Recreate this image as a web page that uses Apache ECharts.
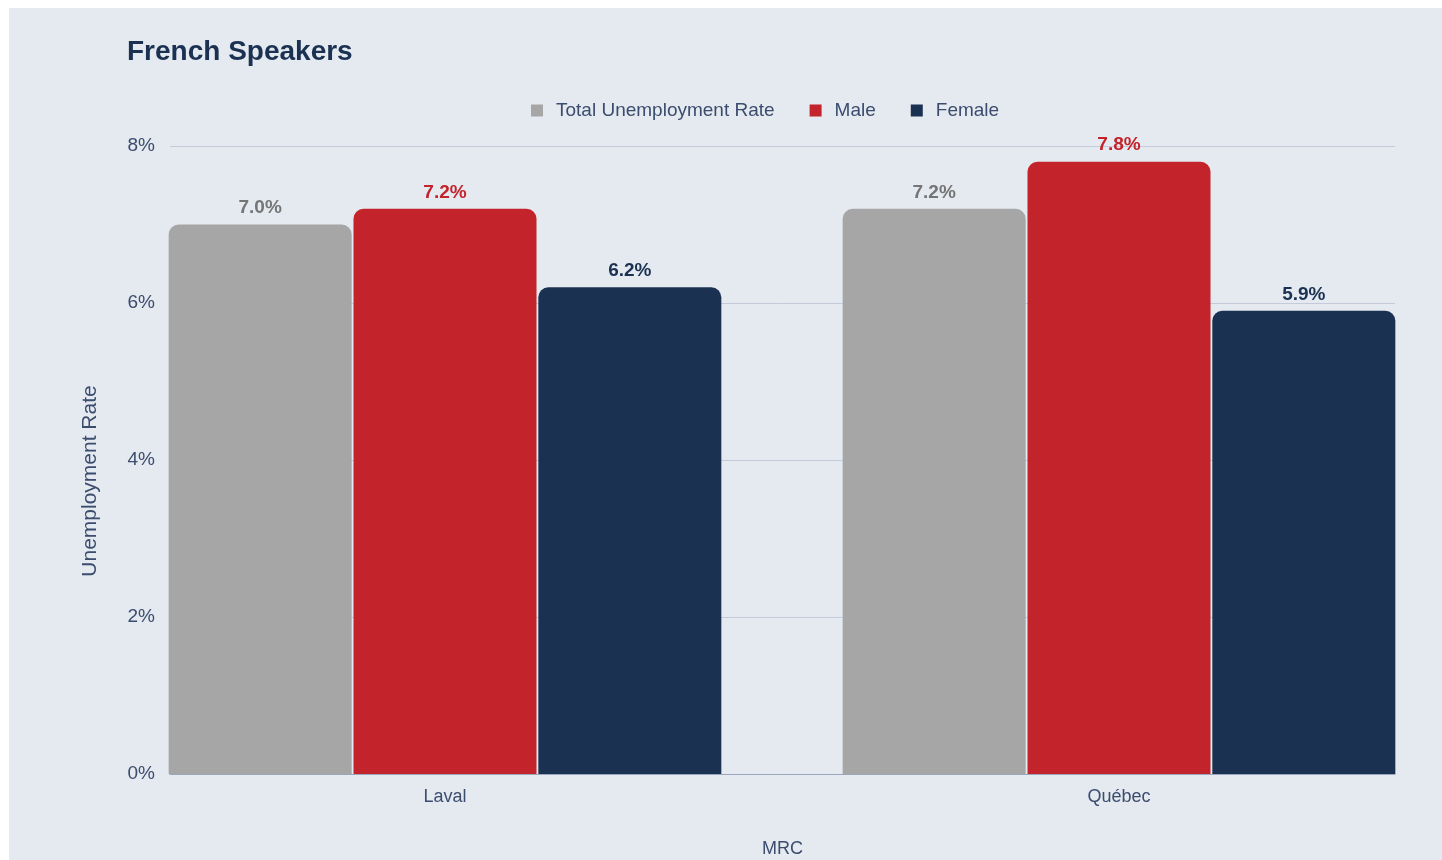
<!DOCTYPE html>
<html>
<head>
<meta charset="utf-8">
<script src="https://cdn.jsdelivr.net/npm/echarts@6/dist/echarts.min.js"></script>
<style>
  html, body { margin: 0; padding: 0; background: #ffffff; }
  #panel { position: absolute; left: 9px; top: 8px; width: 1433px; height: 852px; background: #e5eaf0; }
  #chart { width: 1433px; height: 852px; }
</style>
</head>
<body>
<div id="panel"><div id="chart"></div></div>
<script>
// data
const categories = ['Laval', 'Québec'];
const totalRate = [7.0, 7.2];
const maleRate = [7.2, 7.8];
const femaleRate = [6.2, 5.9];
const yTicks = [0, 2, 4, 6, 8];

const font = '"Liberation Sans", Arial, sans-serif';
const textColor = '#3b4c6e';

function barSeries(name, data, color, labelColor) {
  return {
    name: name,
    type: 'bar',
    xAxisIndex: 1,
    yAxisIndex: 1,
    data: data,
    barWidth: 183,
    barGap: '1%',
    itemStyle: { color: color, borderRadius: [10, 10, 0, 0] },
    label: {
      show: true,
      position: 'top',
      distance: 7,
      formatter: p => p.value.toFixed(1) + '%',
      color: labelColor,
      fontFamily: font,
      fontWeight: 'bold',
      fontSize: 19
    }
  };
}

const chart = echarts.init(document.getElementById('chart'));
chart.setOption({
  backgroundColor: 'transparent',
  animation: false,
  title: {
    text: 'French Speakers',
    left: 113,
    top: 25,
    textStyle: { color: '#1b3152', fontFamily: font, fontWeight: 'bold', fontSize: 28 }
  },
  legend: {
    data: ['Total Unemployment Rate', 'Male', 'Female'],
    left: 517,
    top: 88,
    icon: 'rect',
    itemWidth: 12,
    itemHeight: 12,
    itemGap: 35,
    textStyle: { color: textColor, fontFamily: font, fontSize: 19, padding: [0, 0, 0, 8] }
  },
  grid: [
    { left: 161, right: 47, top: 138, bottom: 86, outerBoundsMode: 'none' },
    // bar grid is wider than the plot so the groups sit like the reference
    { left: 99, width: 1348, top: 138, bottom: 86, outerBoundsMode: 'none' }
  ],
  xAxis: [
    {
      type: 'category',
      gridIndex: 0,
      data: categories,
      name: 'MRC',
      nameLocation: 'middle',
      nameGap: 66,
      nameTextStyle: { color: textColor, fontFamily: font, fontSize: 18 },
      axisLine: { lineStyle: { color: '#9aa6bc', width: 1 } },
      axisTick: { show: false },
      axisLabel: { show: false },
      splitLine: { show: false }
    },
    {
      type: 'category',
      gridIndex: 1,
      data: categories,
      axisLine: { show: false },
      axisTick: { show: false },
      axisLabel: { color: textColor, fontFamily: font, fontSize: 18, margin: 14 },
      splitLine: { show: false }
    }
  ],
  yAxis: [
    {
      type: 'value',
      gridIndex: 0,
      min: yTicks[0],
      max: yTicks[yTicks.length - 1],
      interval: 2,
      axisLine: { show: false },
      axisTick: { show: false },
      axisLabel: {
        formatter: '{value}%',
        color: textColor,
        fontFamily: font,
        fontSize: 19,
        margin: 15,
        padding: [4, 0, 0, 0]
      },
      splitLine: { lineStyle: { color: '#c3cad9', width: 1 } }
    },
    {
      type: 'value',
      gridIndex: 1,
      min: yTicks[0],
      max: yTicks[yTicks.length - 1],
      interval: 2,
      show: false,
      splitLine: { show: false }
    }
  ],
  graphic: [
    {
      type: 'text',
      x: 81,
      y: 473,
      rotation: Math.PI / 2,
      style: {
        text: 'Unemployment Rate',
        fill: textColor,
        font: '21px ' + font,
        align: 'center',
        verticalAlign: 'middle'
      }
    }
  ],
  series: [
    barSeries('Total Unemployment Rate', totalRate, '#a6a6a6', '#757575'),
    barSeries('Male', maleRate, '#c3232b', '#c3232b'),
    barSeries('Female', femaleRate, '#1b3152', '#1b3152')
  ]
});
</script>
</body>
</html>
